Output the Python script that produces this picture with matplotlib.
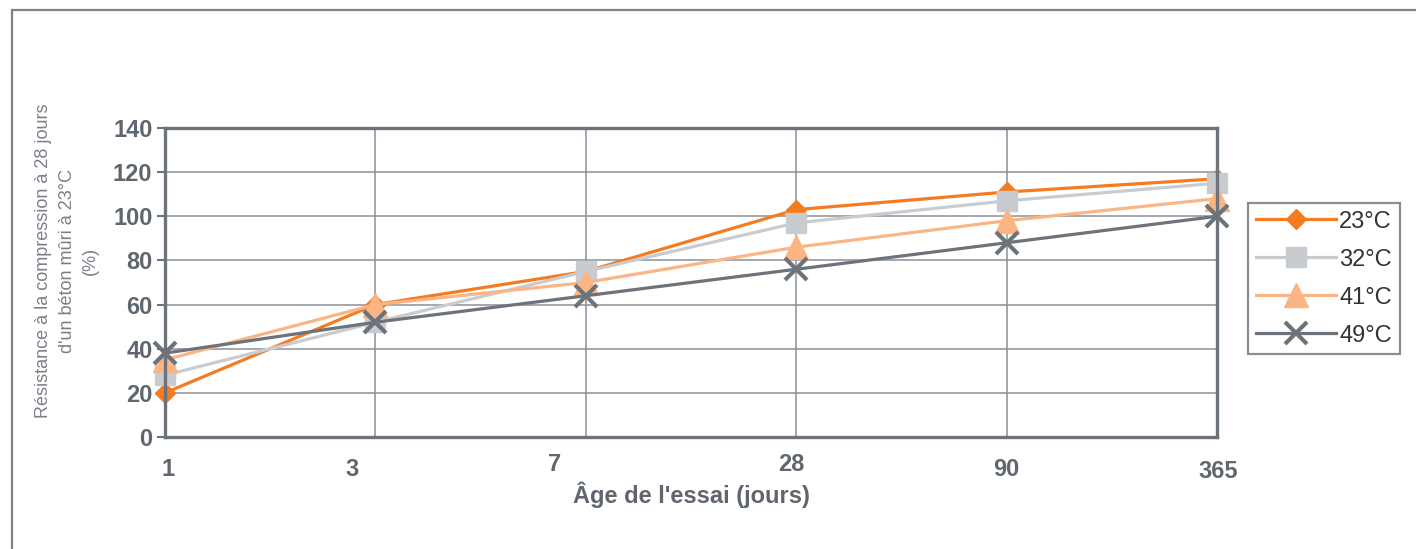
import matplotlib.pyplot as plt
from matplotlib.patches import Rectangle
from matplotlib.transforms import ScaledTranslation

ages = ['1', '3', '7', '28', '90', '365']
series_labels = ['23°C', '32°C', '41°C', '49°C']
t23 = [20, 60, 75, 103, 111, 117]
t32 = [28, 52, 75, 97, 107, 115]
t41 = [35, 60, 70, 86, 98, 108]
t49 = [38, 52, 64, 76, 88, 100]
y_ticks = [0, 20, 40, 60, 80, 100, 120, 140]

dark = '#6c737b'
txt = '#5f666e'
styles = [
    dict(color='#f47b20', marker='D', ms=10, mec='#f47b20'),
    dict(color='#c8ccd1', marker='s', ms=15, mec='#c8ccd1'),
    dict(color='#fbb584', marker='^', ms=17, mec='#fbb584'),
    dict(color=dark, marker='x', ms=16, mew=3),
]

fig = plt.figure(figsize=(14.16, 5.49), dpi=100)
ax = fig.add_axes([165 / 1416, 1 - 437 / 549, 1052 / 1416, 309 / 549])

# outer frame, only top and left edges visible
fig.patches.append(Rectangle((12 / 1416, -0.2), 1.5, (1 - 10 / 549) + 0.2,
                             transform=fig.transFigure, fill=False,
                             edgecolor='#7c838b', lw=1.6))

x = list(range(len(ages)))
for vals, lab, st in zip([t23, t32, t41, t49], series_labels, styles):
    ax.plot(x, vals, label=lab, lw=2.3, clip_on=False, **st)

ax.set_xlim(0, len(ages) - 1)
ax.set_ylim(0, 140)
ax.set_yticks(y_ticks)
ax.set_xticks(x)
ax.set_xticklabels(ages)
ax.grid(True, color='#8b9198', lw=1.1)
ax.set_axisbelow(True)
for sp in ax.spines.values():
    sp.set_color(dark)
    sp.set_linewidth(2.4)

ax.tick_params(axis='y', length=6, width=1.5, color=dark, pad=3,
               labelsize=17, labelcolor=txt)
ax.tick_params(axis='x', length=0, pad=15, labelsize=17, labelcolor=txt)
for lbl in ax.get_yticklabels() + ax.get_xticklabels():
    lbl.set_fontweight('bold')
    lbl.set_family('Liberation Sans')

# x tick labels in the original sit a little irregularly
dx = [3, -23, -31, -5, 0, 1]
dy = [0, 0, 5, 5, 0, -2]
for lbl, a, b in zip(ax.get_xticklabels(), dx, dy):
    lbl.set_transform(lbl.get_transform() + ScaledTranslation(a / 100, b / 100, fig.dpi_scale_trans))

ax.set_xlabel("Âge de l'essai (jours)", fontsize=17, fontweight='bold',
              color=txt, family='Liberation Sans', labelpad=-1)
fig.text(67 / 1416, 1 - 261 / 549,
         "Résistance à la compression à 28 jours\nd'un béton mûri à 23°C\n(%)",
         rotation=90, ha='center', va='center', multialignment='center',
         fontsize=13, color='#7a8089', linespacing=1.5,
         family=['Liberation Sans Narrow', 'Liberation Sans'])

leg = ax.legend(loc='upper left', bbox_to_anchor=(1248 / 1416, 1 - 203 / 549),
                bbox_transform=fig.transFigure,
                frameon=True, fancybox=False, handlelength=3.4,
                handletextpad=0.15, borderpad=0.32, borderaxespad=0,
                labelspacing=0.68,
                prop={'family': 'Liberation Sans', 'size': 17})
leg.get_frame().set_edgecolor(dark)
leg.get_frame().set_linewidth(1.6)
for t in leg.get_texts():
    t.set_color('#333333')

fig.savefig('out.png', dpi=100)
